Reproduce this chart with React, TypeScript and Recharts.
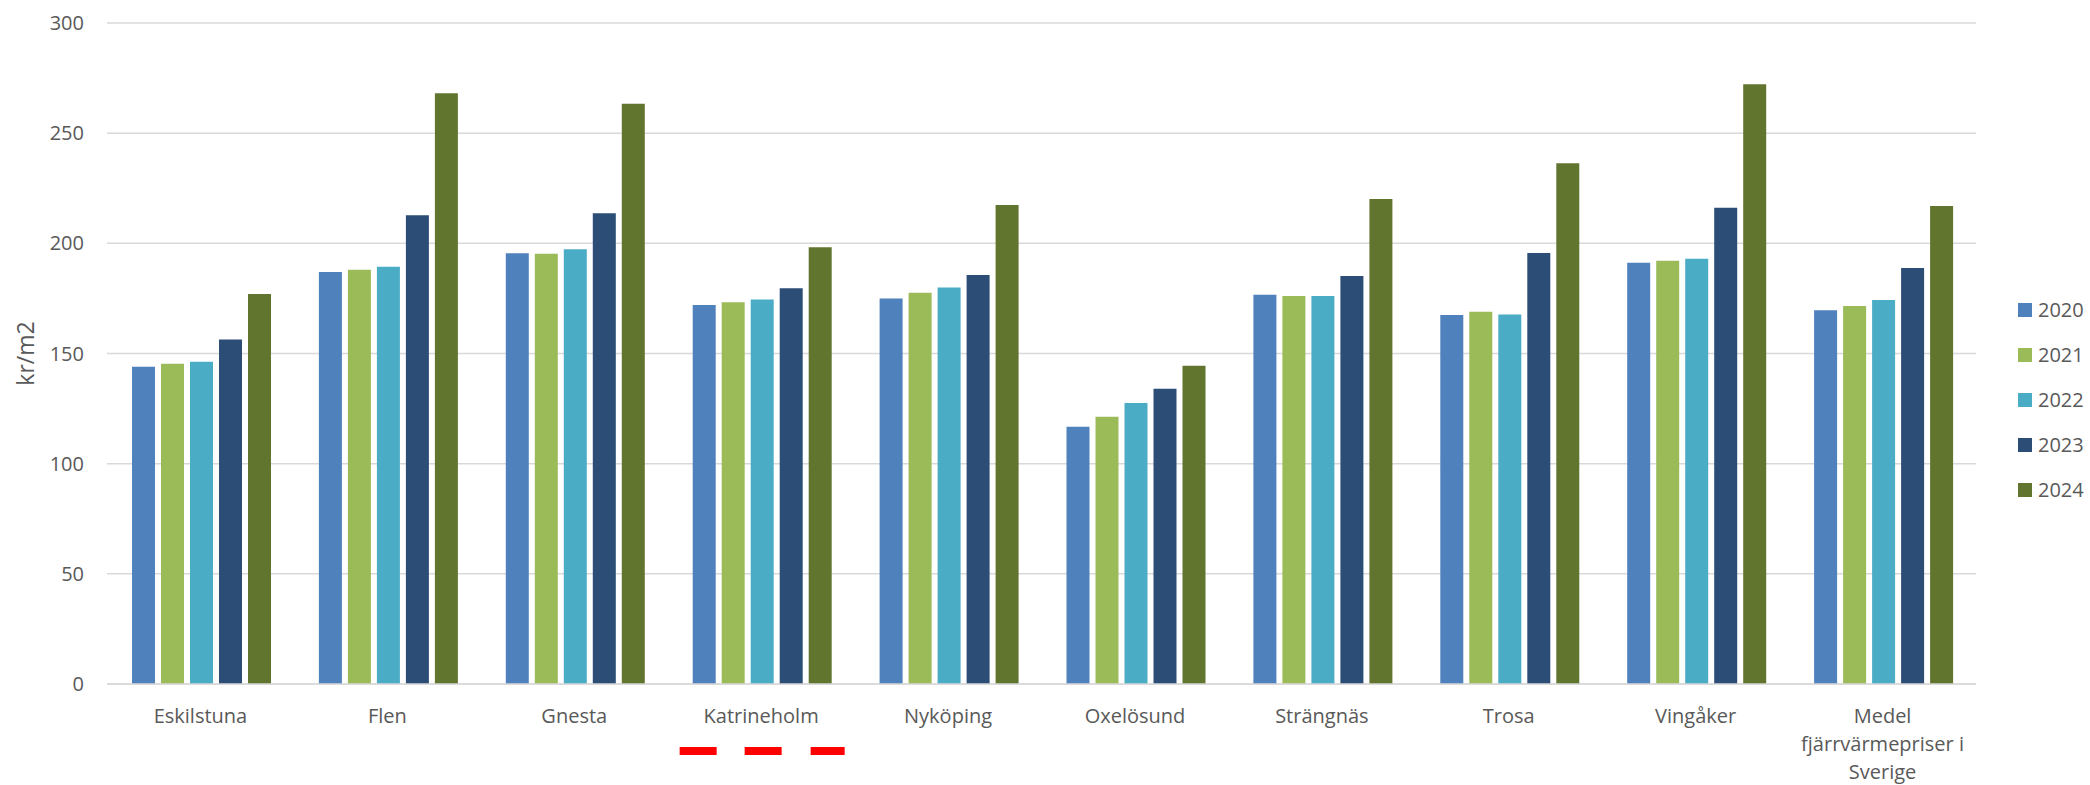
import React from 'react';
import { BarChart, Bar, XAxis, YAxis, CartesianGrid, Legend } from 'recharts';

const categories = [
    'Eskilstuna',
    'Flen',
    'Gnesta',
    'Katrineholm',
    'Nyköping',
    'Oxelösund',
    'Strängnäs',
    'Trosa',
    'Vingåker',
    'Medel\nfjärrvärmepriser i\nSverige',
];

const years = ['2020', '2021', '2022', '2023', '2024'];

const values2020 = [144, 187, 195.5, 172, 175, 116.8, 176.7, 167.5, 191.2, 169.6];
const values2021 = [145.3, 188, 195.3, 173.3, 177.6, 121.3, 176.1, 168.9, 192.1, 171.6];
const values2022 = [146.2, 189.4, 197.3, 174.5, 179.9, 127.5, 176.1, 167.7, 193, 174.3];
const values2023 = [156.4, 212.7, 213.6, 179.6, 185.6, 134, 185.2, 195.6, 216.2, 188.8];
const values2024 = [177, 268.1, 263.4, 198.2, 217.4, 144.4, 220.1, 236.4, 272.2, 216.9];

const yTicks = [0, 50, 100, 150, 200, 250, 300];

const colors = ['#4F81BD', '#9BBB59', '#4BACC6', '#2C4D75', '#62752F'];

const seriesValues = [values2020, values2021, values2022, values2023, values2024];

const data = categories.map((name, i) => {
    const row: Record<string, string | number> = { name };
    years.forEach((y, s) => {
        row[y] = seriesValues[s][i];
    });
    return row;
});

const FONT = '"Open Sans", sans-serif';
const TEXT = '#595959';

const CategoryTick = (props: any) => {
    const { x, y, payload, index } = props;
    const lines = String(payload.value).split('\n');
    return (
        <g>
            {lines.map((line, i) => (
                <text
                    key={i}
                    x={x}
                    y={y + 39 + i * 28}
                    textAnchor="middle"
                    fill={TEXT}
                    fontSize={20}
                    fontFamily={FONT}
                >
                    {line}
                </text>
            ))}
            {/* red dashed marker under Katrineholm */}
            {index === 3 && (
                <g fill="#FF0000">
                    <rect x={x - 81.5} y={y + 63} width={37} height={8} />
                    <rect x={x - 16.5} y={y + 63} width={37} height={8} />
                    <rect x={x + 49.5} y={y + 63} width={34} height={8} />
                </g>
            )}
        </g>
    );
};

const LegendContent = (props: any) => {
    const { payload } = props;
    return (
        <div style={{ fontFamily: FONT }}>
            {(payload || []).map((entry: any) => (
                <div
                    key={entry.value}
                    style={{ display: 'flex', alignItems: 'center', height: 45 }}
                >
                    <div style={{ width: 14, height: 14, background: entry.color, marginRight: 6 }} />
                    <span style={{ fontSize: 20, color: TEXT, lineHeight: '20px' }}>{entry.value}</span>
                </div>
            ))}
        </div>
    );
};

const YLabel = (props: any) => {
    const { viewBox } = props;
    const cy = viewBox.y + viewBox.height / 2;
    return (
        <text
            x={25}
            y={cy}
            transform={`rotate(-90 25 ${cy})`}
            textAnchor="middle"
            dominantBaseline="central"
            fill={TEXT}
            fontSize={23}
            fontFamily={FONT}
        >
            kr/m2
        </text>
    );
};

export default function App() {
    return (
        <div style={{ position: 'absolute', left: 0, top: 0, width: 2090, height: 785, background: '#fff' }}>
            <BarChart
                width={2090}
                height={785}
                data={data}
                margin={{ top: 23, right: 114, left: 0, bottom: 0 }}
                barCategoryGap={25}
                barGap={6}
            >
                <CartesianGrid vertical={false} stroke="#D9D9D9" strokeWidth={1.5} />
                <XAxis
                    dataKey="name"
                    height={101}
                    axisLine={{ stroke: '#D9D9D9', strokeWidth: 1.5 }}
                    tickLine={false}
                    tickSize={0}
                    tickMargin={0}
                    interval={0}
                    tick={<CategoryTick />}
                />
                <YAxis
                    width={107}
                    domain={[0, 300]}
                    ticks={yTicks}
                    axisLine={false}
                    tickLine={false}
                    tickSize={0}
                    tickMargin={23}
                    tick={{ fill: TEXT, fontSize: 20, fontFamily: FONT }}
                    label={<YLabel />}
                />
                <Legend
                    layout="vertical"
                    align="center"
                    verticalAlign="middle"
                    content={<LegendContent />}
                    wrapperStyle={{ left: 2018, top: 287, width: 72 }}
                />
                {years.map((y, s) => (
                    <Bar key={y} dataKey={y} fill={colors[s]} isAnimationActive={false} />
                ))}
            </BarChart>
        </div>
    );
}
